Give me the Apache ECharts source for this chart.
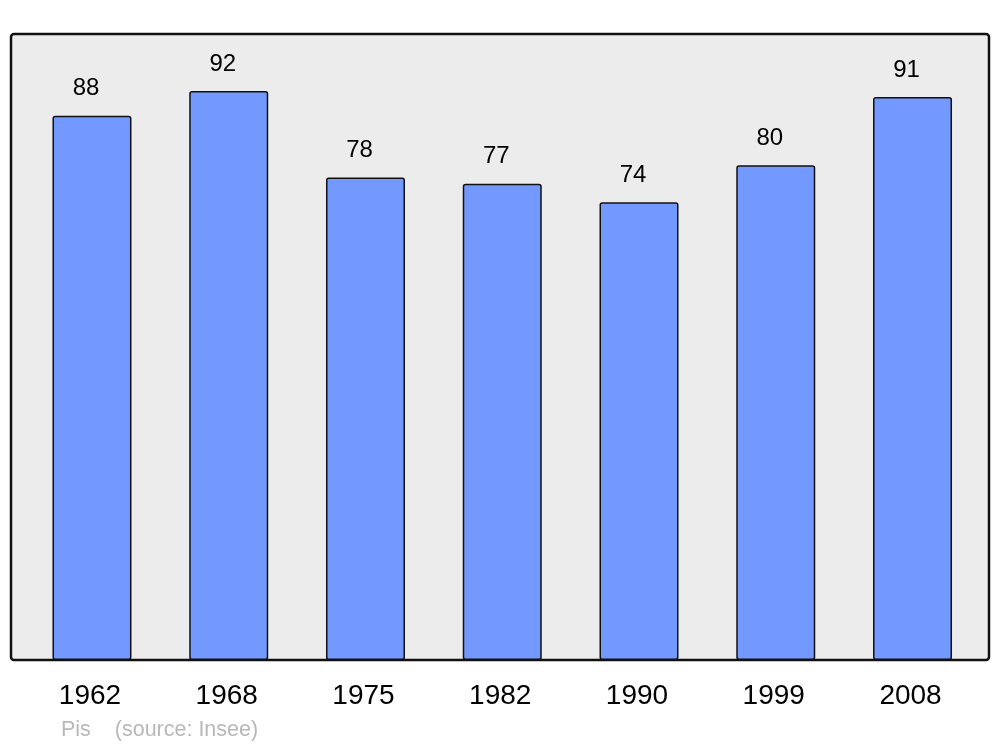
<!DOCTYPE html>
<html>
<head>
<meta charset="utf-8">
<script src="https://cdn.jsdelivr.net/npm/echarts@6/dist/echarts.min.js"></script>
<style>
html,body{margin:0;padding:0;background:#fff;}
#c{width:1000px;height:747px;}
</style>
</head>
<body>
<div id="c"></div>
<script>
const years = ['1962','1968','1975','1982','1990','1999','2008'];
const population = [88, 92, 78, 77, 74, 80, 91];
const footnote = 'Pis    (source: Insee)';

const chart = echarts.init(document.getElementById('c'), null, {renderer:'canvas'});
const FONT = '"Liberation Sans", Arial, sans-serif';
chart.setOption({
  animation: false,
  backgroundColor: '#ffffff',
  graphic: [
    {type:'rect', z:-10, shape:{x:11, y:34, width:978, height:626, r:3},
     style:{fill:'#ececec', stroke:'#111111', lineWidth:2.5}},
    {type:'text', left:61, top:719, z:10,
     style:{text:footnote, fill:'#b8b8b8', font:'21.5px ' + FONT}}
  ],
  grid: {left:23.6, right:19.1, top:34, bottom:87, containLabel:false},
  xAxis: {
    type:'category', data:years,
    axisLine:{show:false}, axisTick:{show:false},
    axisLabel:{color:'#000', fontSize:28, fontFamily:FONT, margin:22, padding:[0,4,0,0]}
  },
  yAxis: {
    type:'value', min:0, max:101.2,
    axisLine:{show:false}, axisTick:{show:false}, axisLabel:{show:false},
    splitLine:{show:false}
  },
  series: [{
    type:'bar', data:population, barWidth:79,
    itemStyle:{color:'#7399ff', borderColor:'#111111', borderWidth:1.5, borderRadius:2},
    label:{show:true, position:'top', distance:15, offset:[-6,0], color:'#000', fontSize:24, fontFamily:FONT}
  }]
});
</script>
</body>
</html>
